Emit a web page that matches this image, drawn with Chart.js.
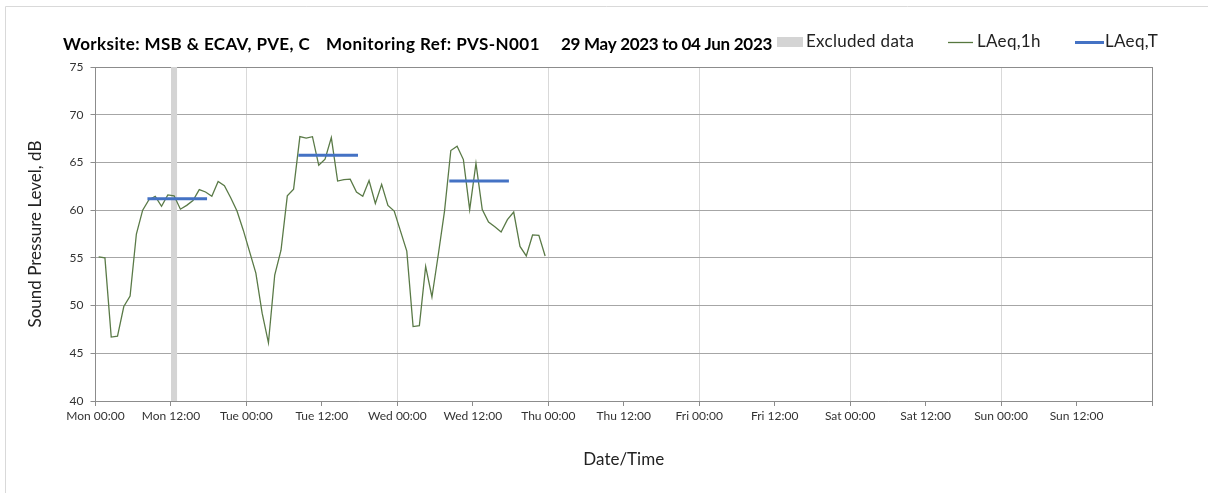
<!DOCTYPE html>
<html>
<head>
<meta charset="utf-8">
<title>Noise monitoring PVS-N001</title>
<script src="https://cdn.jsdelivr.net/npm/chart.js@4.4.0/dist/chart.umd.min.js"></script>
<style>
  html, body { margin: 0; padding: 0; background: #fff; }
  #wrap { width: 1208px; height: 493px; }
</style>
</head>
<body>
<div id="wrap"><canvas id="noiseChart" width="1208" height="493"></canvas></div>
<script>
// hourly LAeq,1h from Mon 00:00 (dB), plotted at mid-hour
const lAeq1h = [
  55.1, 55.0, 46.7, 46.8, 49.9, 51.0, 57.5, 60.0, 61.1, 61.45,
  60.4, 61.6, 61.5, 60.1, 60.5, 61.0, 62.15, 61.9, 61.45, 63.0,
  62.55, 61.3, 59.9, 57.9, 55.65, 53.4, 49.2, 46.1, 53.2, 55.8,
  61.5, 62.2, 67.7, 67.55, 67.7, 64.7, 65.35, 67.6, 63.05, 63.2,
  63.25, 61.9, 61.45, 63.1, 60.7, 62.7, 60.5, 59.9, 57.8, 55.7,
  47.8, 47.9, 54.1, 50.9, 55.3, 59.9, 66.25, 66.7, 65.3, 60.05,
  64.9, 60.05, 58.75, 58.25, 57.7, 59.0, 59.8, 56.2, 55.2, 57.4,
  57.35, 55.2
];

// LAeq,T periods (hours from Mon 00:00) and levels
const periodStart = [8.5, 32.5, 56.5];
const periodEnd = [17.5, 41.5, 65.5];
const lAeqT = [61.2, 65.75, 63.05];

// excluded hours
const excludedStart = [12];
const excludedEnd = [13];

const tickLabels = [
  "Mon 00:00", "Mon 12:00", "Tue 00:00", "Tue 12:00", "Wed 00:00", "Wed 12:00",
  "Thu 00:00", "Thu 12:00", "Fri 00:00", "Fri 12:00", "Sat 00:00", "Sat 12:00",
  "Sun 00:00", "Sun 12:00"
];
const titleParts = ["Worksite: MSB & ECAV, PVE, C", "Monitoring Ref: PVS-N001", "29 May 2023 to 04 Jun 2023"];

const FONT = "Lato, 'Open Sans', sans-serif";
const axisGrey = "#8c8c8c";

// build datasets
const hourlyPoints = lAeq1h.map((v, i) => ({ x: i + 0.5, y: v }));

const periodPoints = [];
lAeqT.forEach((v, i) => {
  periodPoints.push({ x: periodStart[i], y: v });
  periodPoints.push({ x: periodEnd[i], y: v });
  periodPoints.push({ x: periodEnd[i] + 1, y: null });
});

const excludedPoints = [];
excludedStart.forEach((s, i) => {
  excludedPoints.push({ x: s, y: 75 });
  excludedPoints.push({ x: excludedEnd[i], y: 75 });
  excludedPoints.push({ x: excludedEnd[i] + 0.5, y: null });
});

// title, legend and outer frame
const headerPlugin = {
  id: "header",
  afterDraw(chart) {
    const ctx = chart.ctx;
    ctx.save();
    ctx.strokeStyle = "#d9d9d9";
    ctx.lineWidth = 1;
    ctx.beginPath();
    ctx.moveTo(5.5, 493);
    ctx.lineTo(5.5, 6.5);
    ctx.lineTo(1208, 6.5);
    ctx.stroke();

    ctx.fillStyle = "#000";
    ctx.textBaseline = "middle";
    ctx.font = "bold 17px " + FONT;
    const tx = [63, 326, 561];
    const tw = [247, 214, 211];
    titleParts.forEach((t, i) => {
      ctx.letterSpacing = "0px";
      const w = ctx.measureText(t).width;
      ctx.letterSpacing = ((tw[i] - w) / t.length).toFixed(2) + "px";
      ctx.fillText(t, tx[i], 45);
    });

    // legend
    ctx.font = "17px " + FONT;
    ctx.letterSpacing = "0.3px";
    ctx.fillStyle = "#d4d4d4";
    ctx.fillRect(777, 37, 26, 10);
    ctx.fillStyle = "#222";
    ctx.fillText("Excluded data", 806, 42);

    ctx.strokeStyle = "#56773f";
    ctx.lineWidth = 1.3;
    ctx.beginPath(); ctx.moveTo(948, 42.5); ctx.lineTo(973, 42.5); ctx.stroke();
    ctx.fillText("LAeq,1h", 977, 42);

    ctx.strokeStyle = "#4472c4";
    ctx.lineWidth = 3;
    ctx.beginPath(); ctx.moveTo(1075, 42.5); ctx.lineTo(1104, 42.5); ctx.stroke();
    ctx.fillText("LAeq,T", 1105, 42);
    ctx.restore();
  }
};

const ctx = document.getElementById("noiseChart").getContext("2d");
new Chart(ctx, {
  type: "line",
  data: {
    datasets: [
      {
        label: "Excluded data",
        data: excludedPoints,
        borderWidth: 0,
        borderColor: "rgba(0,0,0,0)",
        backgroundColor: "#d4d4d4",
        fill: "start",
        pointRadius: 0,
        spanGaps: false,
        order: 3
      },
      {
        label: "LAeq,1h",
        data: hourlyPoints,
        borderColor: "#5a7a47",
        borderWidth: 1.3,
        pointRadius: 0,
        tension: 0,
        fill: false,
        order: 2
      },
      {
        label: "LAeq,T",
        data: periodPoints,
        borderColor: "#4472c4",
        borderWidth: 3,
        borderCapStyle: "square",
        pointRadius: 0,
        spanGaps: false,
        fill: false,
        order: 1
      }
    ]
  },
  options: {
    responsive: false,
    animation: false,
    layout: { padding: { top: 67, right: 56, left: 0, bottom: 0 } },
    plugins: {
      legend: { display: false },
      title: { display: false },
      tooltip: { enabled: false }
    },
    scales: {
      x: {
        type: "linear",
        min: 0,
        max: 168,
        afterFit: (scale) => { scale.height = 92; },
        ticks: {
          stepSize: 12,
          autoSkip: false,
          maxRotation: 0,
          padding: 3,
          color: "#333",
          font: { family: FONT, size: 12 },
          callback: (v) => tickLabels[v / 12] || ""
        },
        grid: {
          color: (c) => {
            const v = c.tick ? c.tick.value : 0;
            if (v === 168) return axisGrey;
            if (v % 24 === 0 && v !== 0) return "#d9d9d9";
            return "rgba(0,0,0,0)";
          },
          tickColor: axisGrey,
          tickLength: 5
        },
        border: { color: axisGrey, width: 1 },
        title: {
          display: true,
          text: "Date/Time",
          color: "#222",
          font: { family: FONT, size: 17 },
          padding: { top: 0, bottom: 23 }
        }
      },
      y: {
        min: 40,
        max: 75,
        afterFit: (scale) => { scale.width = 95.5; },
        ticks: {
          stepSize: 5,
          padding: 7,
          color: "#333",
          font: { family: FONT, size: 12 }
        },
        grid: {
          color: (c) => (c.tick && c.tick.value === 75 ? axisGrey : "#a6a6a6"),
          tickColor: axisGrey,
          tickLength: 5
        },
        border: { color: axisGrey, width: 1 },
        title: {
          display: true,
          text: "Sound Pressure Level, dB",
          color: "#222",
          font: { family: FONT, size: 17 },
          padding: { top: 25, bottom: 0 }
        }
      }
    }
  },
  plugins: [headerPlugin]
});
</script>
</body>
</html>
